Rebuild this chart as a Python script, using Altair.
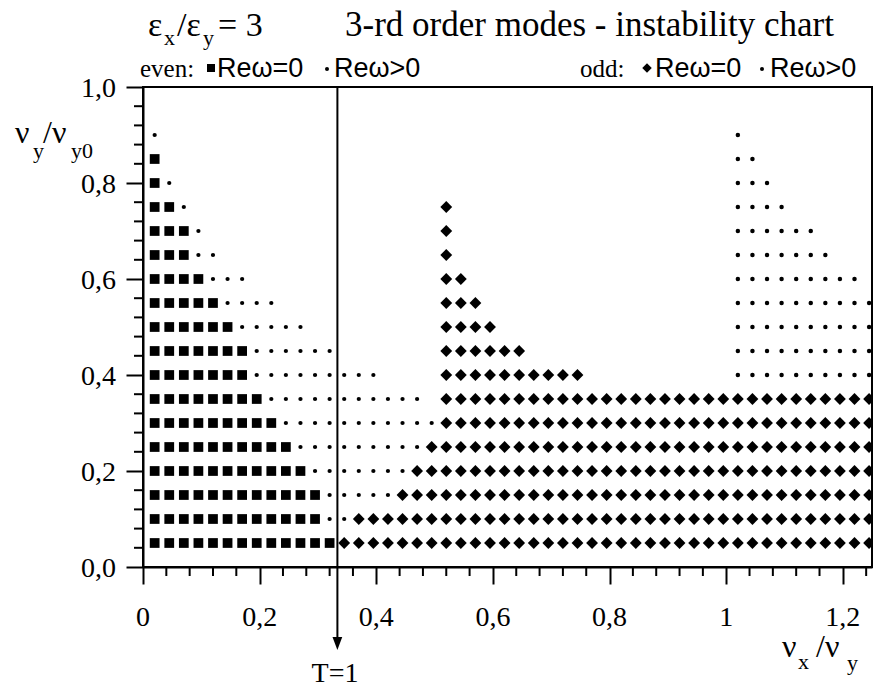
import altair as alt
import pandas as pd

# ---------------- data ----------------
rows = [0.05, 0.10, 0.15, 0.20, 0.25, 0.30, 0.35, 0.40, 0.45,
        0.50, 0.55, 0.60, 0.65, 0.70, 0.75, 0.80, 0.85, 0.90]

x_grid = [0.020, 0.045, 0.070, 0.095, 0.120, 0.145, 0.170, 0.195, 0.220, 0.245,
          0.270, 0.295, 0.320, 0.345, 0.370, 0.395, 0.420, 0.445, 0.470, 0.495,
          0.520, 0.545, 0.570, 0.595, 0.620, 0.645, 0.670, 0.695, 0.720, 0.745,
          0.770, 0.795, 0.820, 0.845, 0.870, 0.895, 0.920, 0.945, 0.970, 0.995,
          1.020, 1.045, 1.070, 1.095, 1.120, 1.145, 1.170, 1.195, 1.220, 1.245]

# column-index spans (first, last) per row, None = nothing in that row
even_sq = [(0, 12), (0, 11), (0, 11), (0, 10), (0, 9), (0, 8), (0, 7), (0, 6), (0, 6),
           (0, 5), (0, 4), (0, 3), (0, 2), (0, 2), (0, 1), (0, 0), (0, 0), None]
even_dot = [None, (12, 13), (12, 16), (11, 17), (10, 18), (9, 19), (8, 18), (7, 15), (7, 12),
            (6, 10), (5, 8), (4, 6), (3, 4), (3, 3), (2, 2), (1, 1), None, (0, 0)]
odd_dia = [(13, 49), (14, 49), (17, 49), (18, 49), (19, 49), (20, 49), (20, 49), (20, 29), (20, 25),
           (20, 23), (20, 22), (20, 21), (20, 20), (20, 20), (20, 20), None, None, None]
odd_dot = [None, None, None, None, None, None, None, (40, 49), (40, 49),
           (40, 49), (40, 49), (40, 48), (40, 46), (40, 45), (40, 43), (40, 42), (40, 41), (40, 40)]

x_major = [0.0, 0.2, 0.4, 0.6, 0.8, 1.0, 1.2]
x_labels = ["0", "0,2", "0,4", "0,6", "0,8", "1", "1,2"]
x_minor = [0.04, 0.08, 0.12, 0.16, 0.24, 0.28, 0.32, 0.36, 0.44, 0.48, 0.52, 0.56,
           0.64, 0.68, 0.72, 0.76, 0.84, 0.88, 0.92, 0.96, 1.04, 1.08, 1.12, 1.16, 1.24]
y_major = [0.0, 0.2, 0.4, 0.6, 0.8, 1.0]
y_labels = ["0,0", "0,2", "0,4", "0,6", "0,8", "1,0"]
y_minor = [0.04, 0.08, 0.12, 0.16, 0.24, 0.28, 0.32, 0.36, 0.44, 0.48, 0.52, 0.56,
           0.64, 0.68, 0.72, 0.76, 0.84, 0.88, 0.92, 0.96]
t_line = [1 / 3]

# ---------------- layout ----------------
L, T = 143, 87          # plot origin in page pixels
W, H = 729, 480
SERIF = "Liberation Serif"
SANS = "Liberation Sans"


def spans_to_df(spans):
    recs = []
    for i, yv in enumerate(rows):
        s = spans[i]
        if s:
            for k in range(s[0], s[1] + 1):
                recs.append({"x": x_grid[k], "y": yv})
    return pd.DataFrame(recs)


X = alt.Scale(domain=[0, 1.25], nice=False, zero=False)
Y = alt.Scale(domain=[0, 1], nice=False, zero=False)

X_AXIS = alt.Axis(values=x_major, title=None, grid=False, tickSize=17, labels=False)
Y_AXIS = alt.Axis(values=y_major, title=None, grid=False, tickSize=17, labels=False)


def pts(spans, shape, size):
    return alt.Chart(spans_to_df(spans)).mark_point(
        shape=shape, size=size, filled=True, opacity=1, color="black",
        strokeWidth=0, clip=True).encode(
        x=alt.X("x:Q", scale=X, axis=X_AXIS),
        y=alt.Y("y:Q", scale=Y, axis=Y_AXIS))


layers = [
    pts(even_sq, "square", 95),
    pts(even_dot, "circle", 18),
    pts(odd_dia, "diamond", 140),
    pts(odd_dot, "circle", 20),
]

xminor = alt.Chart(pd.DataFrame({"x": x_minor})).mark_rule(
    color="black", strokeWidth=2).encode(
    x=alt.X("x:Q", scale=X, axis=X_AXIS), y=alt.value(H), y2=alt.value(H + 9))
yminor = alt.Chart(pd.DataFrame({"y": y_minor})).mark_rule(
    color="black", strokeWidth=2).encode(
    y=alt.Y("y:Q", scale=Y, axis=Y_AXIS), x=alt.value(0), x2=alt.value(-9))

xlab = alt.Chart(pd.DataFrame({"x": x_major, "lab": x_labels})).mark_text(
    font=SERIF, fontSize=28, color="black", align="center", baseline="alphabetic").encode(
    x=alt.X("x:Q", scale=X, axis=X_AXIS), y=alt.value(626 - T), text="lab:N")
ylab = alt.Chart(pd.DataFrame({"y": y_major, "lab": y_labels})).mark_text(
    font=SERIF, fontSize=28, color="black", align="right", baseline="middle", dy=2).encode(
    y=alt.Y("y:Q", scale=Y, axis=Y_AXIS), x=alt.value(116 - L), text="lab:N")

arrow_line = alt.Chart(pd.DataFrame({"x": t_line})).mark_rule(
    color="black", strokeWidth=2).encode(
    x=alt.X("x:Q", scale=X, axis=X_AXIS), y=alt.value(0), y2=alt.value(556))
arrow_head = alt.Chart(pd.DataFrame({"x": t_line})).mark_point(
    shape="M-0.75,-1L0.75,-1L0,1Z", filled=True, opacity=1, color="black",
    strokeWidth=0, size=169).encode(
    x=alt.X("x:Q", scale=X, axis=X_AXIS), y=alt.value(650 - 6.5 - T))


def txt(s, x, y, size, font=SERIF, align="left"):
    return alt.Chart(pd.DataFrame({"s": [s]})).mark_text(
        text=s, align=align, baseline="alphabetic", font=font, fontSize=size,
        color="black").encode(x=alt.value(x - L), y=alt.value(y - T))


def sym(shape, x, y, size):
    return alt.Chart(pd.DataFrame({"s": [shape]})).mark_point(
        shape=shape, filled=True, opacity=1, color="black", strokeWidth=0,
        size=size).encode(x=alt.value(x - L), y=alt.value(y - T))


texts = [
    # title
    txt("ε", 148, 36, 34), txt("x", 164, 45, 22),
    txt("/ε", 177, 36, 34), txt("y", 203, 45, 22),
    txt("= 3", 218, 36, 34),
    txt("3-rd order modes - instability chart", 345, 36, 35),
    # legend line
    txt("even:", 140, 77, 25),
    sym("square", 211, 68, 64), txt("Reω=0", 217, 77, 27, SANS),
    sym("circle", 327, 69, 16), txt("Reω>0", 334, 77, 27, SANS),
    txt("odd:", 580, 77, 25),
    sym("diamond", 647, 68, 90), txt("Reω=0", 655, 77, 27, SANS),
    sym("circle", 762, 69, 16), txt("Reω>0", 770, 77, 27, SANS),
    # y title
    txt("ν", 15, 143, 32), txt("y", 33, 158, 22),
    txt("/ν", 43, 143, 32), txt("y0", 71, 158, 22),
    # x title
    txt("ν", 782, 657, 32), txt("x", 798, 669, 22),
    txt("/ν", 816, 657, 32), txt("y", 847, 670, 22),
    # T=1
    txt("T=1", 335, 682, 28, align="center"),
]

chart = alt.layer(*layers, xminor, yminor, xlab, ylab, arrow_line, arrow_head,
                  *texts).properties(
    width=W, height=H,
    autosize=alt.AutoSizeParams(type="none"),
    padding={"left": L, "top": T, "right": 879 - L - W, "bottom": 691 - T - H},
    background="white",
).configure_view(
    stroke="black", strokeWidth=2
).configure_axis(
    domainColor="black", domainWidth=2, tickColor="black", tickWidth=2, grid=False,
)

chart.save("out.html", embed_options={"renderer": "svg", "actions": False})
